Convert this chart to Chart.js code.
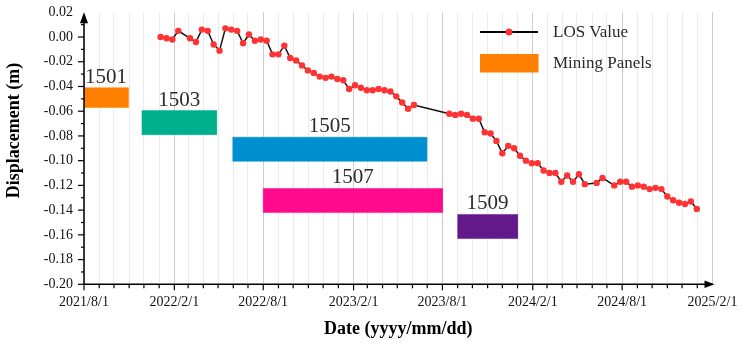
<!DOCTYPE html>
<html><head><meta charset="utf-8">
<script src="https://cdn.jsdelivr.net/npm/chart.js@4.4.1/dist/chart.umd.min.js"></script>
<style>html,body{margin:0;padding:0;background:#fff;}#wrap{width:743px;height:345px;position:relative;}</style>
</head><body><div id="wrap"><canvas id="c"></canvas></div>
<script>
// ---- data ----
const DATES = ['2022/1/4','2022/1/16','2022/1/28','2022/2/9','2022/3/5','2022/3/17','2022/3/29','2022/4/10','2022/4/22','2022/5/4',
'2022/5/16','2022/5/28','2022/6/9','2022/6/21','2022/7/3','2022/7/15','2022/7/27','2022/8/8','2022/8/20','2022/9/1',
'2022/9/13','2022/9/25','2022/10/7','2022/10/19','2022/10/31','2022/11/12','2022/11/24','2022/12/6','2022/12/18','2022/12/30',
'2023/1/11','2023/1/23','2023/2/4','2023/2/16','2023/2/28','2023/3/12','2023/3/24','2023/4/5','2023/4/17','2023/4/29',
'2023/5/11','2023/5/23','2023/6/4','2023/8/15','2023/8/27','2023/9/8','2023/9/20','2023/10/2','2023/10/14','2023/10/26',
'2023/11/7','2023/11/19','2023/12/1','2023/12/13','2023/12/25','2024/1/6','2024/1/18','2024/1/30','2024/2/11','2024/2/23',
'2024/3/6','2024/3/18','2024/3/30','2024/4/11','2024/4/23','2024/5/5','2024/5/17','2024/6/10','2024/6/22','2024/7/16',
'2024/7/28','2024/8/9','2024/8/21','2024/9/2','2024/9/14','2024/9/26','2024/10/8','2024/10/20','2024/11/1','2024/11/13',
'2024/11/25','2024/12/7','2024/12/19','2024/12/31'];
const LOS = [0.000,-0.001,-0.002,0.005,-0.001,-0.004,0.006,0.005,-0.006,-0.011,
0.007,0.006,0.005,-0.005,0.002,-0.003,-0.002,-0.003,-0.014,-0.014,
-0.007,-0.017,-0.019,-0.023,-0.027,-0.029,-0.032,-0.033,-0.032,-0.034,
-0.035,-0.042,-0.039,-0.041,-0.043,-0.043,-0.042,-0.043,-0.044,-0.048,
-0.053,-0.058,-0.055,-0.062,-0.063,-0.062,-0.063,-0.066,-0.066,-0.077,
-0.078,-0.084,-0.094,-0.088,-0.090,-0.096,-0.100,-0.102,-0.102,-0.108,
-0.110,-0.110,-0.117,-0.112,-0.117,-0.111,-0.119,-0.118,-0.114,-0.120,
-0.117,-0.117,-0.121,-0.120,-0.121,-0.123,-0.122,-0.123,-0.129,-0.132,
-0.134,-0.135,-0.133,-0.139];

const PANEL_NAMES  = ['1501','1503','1505','1507','1509'];
const PANEL_START  = ['2021/8/1','2021/11/27','2022/5/31','2022/8/1','2023/9/1'];
const PANEL_END    = ['2021/10/30','2022/4/28','2023/6/30','2023/8/1','2024/1/1'];
const PANEL_TOP    = [-0.041,-0.0595,-0.081,-0.1225,-0.1435];
const PANEL_BOTTOM = [-0.057,-0.079,-0.1005,-0.142,-0.163];
const PANEL_COLORS = ['#ff8000','#00b08c','#008fd0','#ff0a8c','#63198a'];

const X_TICK_LABELS = ['2021/8/1','2022/2/1','2022/8/1','2023/2/1','2023/8/1','2024/2/1','2024/8/1','2025/2/1'];
const Y_TICKS = [0.02,0.00,-0.02,-0.04,-0.06,-0.08,-0.10,-0.12,-0.14,-0.16,-0.18,-0.20];

// ---- helpers ----
const ORIGIN = Date.UTC(2021,7,1);
function day(s){const [y,m,d]=s.split('/').map(Number);return (Date.UTC(y,m-1,d)-ORIGIN)/864e5;}
const X_MIN = day(X_TICK_LABELS[0]), X_MAX = day(X_TICK_LABELS[X_TICK_LABELS.length-1]);
const MAJOR = X_TICK_LABELS.map(day);
const MONTHS = [];
for (let y=2021,m=8; ; ){ const s=y+'/'+m+'/1'; const v=day(s); if (v>X_MAX) break; MONTHS.push(v); m++; if(m>12){m=1;y++;} }
const labelFor = v => { const i = MAJOR.indexOf(v); return i>=0 ? X_TICK_LABELS[i] : ''; };
const SERIF = '"Liberation Serif","Times New Roman",serif';

const datasets = [{
  label:'LOS Value',
  data: DATES.map((d,i)=>({x:day(d),y:LOS[i]})),
  borderColor:'#111', borderWidth:1.5, pointRadius:3.2, pointHoverRadius:3.2,
  pointBackgroundColor:'#ff3333', pointBorderWidth:0, fill:false, tension:0, order:0
}];
PANEL_NAMES.forEach((n,i)=>{
  const s=day(PANEL_START[i]), e=day(PANEL_END[i]), t=PANEL_TOP[i], b=PANEL_BOTTOM[i];
  datasets.push({label:n, data:[{x:s,y:t},{x:e,y:t},{x:e,y:b},{x:s,y:b},{x:s,y:t}],
    borderColor:PANEL_COLORS[i], backgroundColor:PANEL_COLORS[i], borderWidth:0.5,
    pointRadius:0, fill:'shape', tension:0, order:1});
});

const deco = {
  id:'deco',
  afterDraw(chart){
    const ctx=chart.ctx, xs=chart.scales.x, ys=chart.scales.y, a=chart.chartArea;
    ctx.save();
    ctx.strokeStyle='#000'; ctx.fillStyle='#000'; ctx.lineWidth=1.5;
    const x0=a.left, yb=a.bottom;
    // axes
    ctx.beginPath(); ctx.moveTo(x0,yb); ctx.lineTo(x0,a.top+8); ctx.stroke();
    ctx.beginPath(); ctx.moveTo(x0,yb); ctx.lineTo(a.right-4,yb); ctx.stroke();
    // arrows
    ctx.beginPath(); ctx.moveTo(x0,a.top); ctx.lineTo(x0-4,a.top+11); ctx.lineTo(x0+4,a.top+11); ctx.closePath(); ctx.fill();
    ctx.beginPath(); ctx.moveTo(a.right+2,yb); ctx.lineTo(a.right-8,yb-3.7); ctx.lineTo(a.right-8,yb+3.7); ctx.closePath(); ctx.fill();
    // y ticks
    ctx.lineWidth=1.2;
    Y_TICKS.forEach((v,i)=>{
      const p=ys.getPixelForValue(v);
      if (i>0) { ctx.beginPath(); ctx.moveTo(x0-6,p); ctx.lineTo(x0,p); ctx.stroke(); }
      if (i<Y_TICKS.length-1){ const q=ys.getPixelForValue(v-0.01); ctx.beginPath(); ctx.moveTo(x0-3,q); ctx.lineTo(x0,q); ctx.stroke(); }
    });
    // x ticks
    MONTHS.forEach(v=>{
      if (v===X_MAX) return;
      const p=xs.getPixelForValue(v), L = MAJOR.indexOf(v)>=0 ? 6 : 4;
      ctx.beginPath(); ctx.moveTo(p,yb); ctx.lineTo(p,yb+L); ctx.stroke();
    });
    // panel labels
    ctx.fillStyle='#2a2a2a'; ctx.font='21px '+SERIF; ctx.textAlign='center'; ctx.textBaseline='alphabetic';
    PANEL_NAMES.forEach((n,i)=>{
      const cx=(xs.getPixelForValue(day(PANEL_START[i]))+xs.getPixelForValue(day(PANEL_END[i])))/2;
      ctx.fillText(n, cx, ys.getPixelForValue(PANEL_TOP[i])-5);
    });
    // y title
    ctx.save(); ctx.translate(14,130.5); ctx.rotate(-Math.PI/2);
    ctx.fillStyle='#000'; ctx.font='bold 18px '+SERIF; ctx.textBaseline='middle'; ctx.textAlign='center';
    ctx.fillText('Displacement (m)',0,0); ctx.restore();
    // legend
    ctx.strokeStyle='#000'; ctx.lineWidth=2;
    ctx.beginPath(); ctx.moveTo(480,32); ctx.lineTo(538,32); ctx.stroke();
    ctx.fillStyle='#ff3333'; ctx.beginPath(); ctx.arc(509,32,3.5,0,Math.PI*2); ctx.fill();
    ctx.fillStyle=PANEL_COLORS[0]; ctx.fillRect(480,54,58.5,18.5);
    ctx.fillStyle='#2a2a2a'; ctx.font='17px '+SERIF; ctx.textAlign='left'; ctx.textBaseline='middle';
    ctx.fillText('LOS Value',553,32.5); ctx.fillText('Mining Panels',553,63.5);
    ctx.restore();
  }
};

new Chart(document.getElementById('c'), {
  type:'line',
  data:{datasets},
  options:{
    responsive:true, maintainAspectRatio:false, animation:false,
    layout:{padding:{left:0,right:30.5,top:12.3,bottom:0}},
    plugins:{legend:{display:false}, tooltip:{enabled:false}},
    scales:{
      x:{type:'linear', min:X_MIN, max:X_MAX,
        afterBuildTicks:s=>{s.ticks=MONTHS.map(v=>({value:v}));},
        afterFit:s=>{s.height=60.7; s.paddingLeft=0; s.paddingRight=0;},
        ticks:{autoSkip:false, maxRotation:0, minRotation:0, padding:10, color:'#111',
          font:{family:SERIF,size:14}, callback:v=>labelFor(v)},
        grid:{drawTicks:false, lineWidth:1, color:c=> (c.tick && MAJOR.indexOf(c.tick.value)>=0) ? '#cdcdcd' : '#ebebeb'},
        border:{display:false},
        title:{display:true, text:'Date (yyyy/mm/dd)', color:'#000', font:{family:SERIF,size:18,weight:'bold'}, padding:{top:0,bottom:5}}
      },
      y:{type:'linear', min:-0.2, max:0.02,
        afterBuildTicks:s=>{s.ticks=Y_TICKS.map(v=>({value:v}));},
        afterFit:s=>{s.width=84; s.paddingTop=0; s.paddingBottom=0;},
        ticks:{padding:11, color:'#111', font:{family:SERIF,size:14}, callback:v=>(Math.abs(v)<1e-9?0:v).toFixed(2)},
        grid:{display:false, drawTicks:false},
        border:{display:false}
      }
    }
  },
  plugins:[deco]
});
</script></body></html>
